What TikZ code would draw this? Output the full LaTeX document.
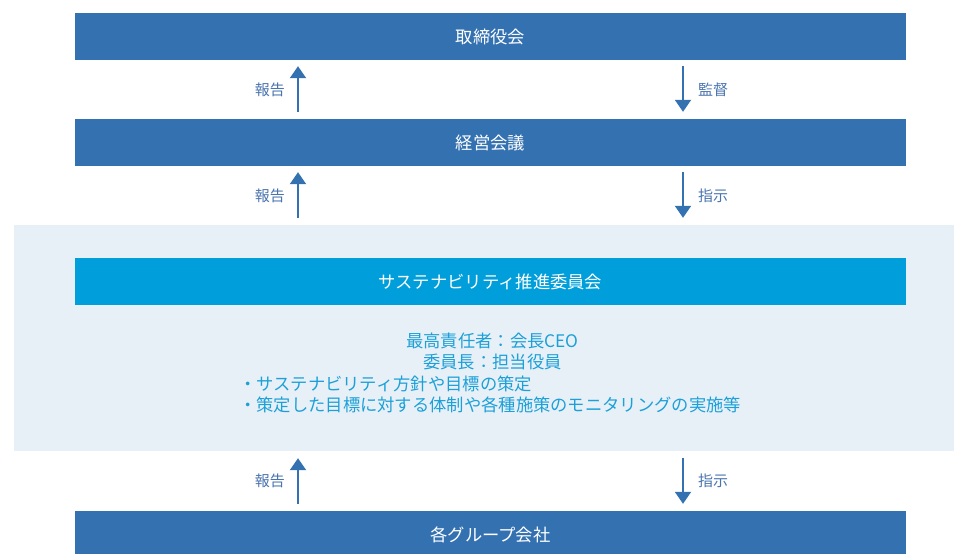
\documentclass[tikz,border=0pt]{standalone}
\usepackage{fontspec}
\setmainfont{Noto Sans CJK JP}
\usetikzlibrary{arrows.meta}
\definecolor{boxblue}{HTML}{3471B1}
\definecolor{susblue}{HTML}{009FDB}
\definecolor{regionbg}{HTML}{E8F0F7}
\definecolor{bodytext}{HTML}{1CA0D8}
\definecolor{labeltext}{HTML}{4A74AE}
\tikzset{
  orgbox/.style={fill=boxblue, minimum width=831pt, minimum height=47pt, inner sep=0pt,
    text=white, font=\fontsize{17.3}{20}\selectfont},
  susbox/.style={orgbox, fill=susblue},
  arr/.style={draw=boxblue, line width=2pt, -{Triangle[width=16pt,length=12pt]}},
  lbl/.style={text=labeltext, font=\fontsize{15}{18}\selectfont, inner sep=0pt},
  bodyline/.style={text=bodytext, font=\fontsize{17.3}{20}\selectfont, inner sep=0pt}
}
\begin{document}
\begin{tikzpicture}[x=1pt,y=-1pt]
\useasboundingbox (0,0) rectangle (954,554);
\node[fill=regionbg, minimum width=940pt, minimum height=226pt, inner sep=0pt] (region) at (484,338) {};
\node[orgbox] (board) at (490.5,36.5) {取締役会};
\node[orgbox] (mgmt) at (490.5,142.5) {経営会議};
\node[susbox] (sus) at (490.5,281.5) {サステナビリティ推進委員会};
\node[orgbox] (group) at (490.5,534.5) {各グループ会社};
% body text
\node[bodyline] (l1) at (492.5,341) {最高責任者：会長CEO};
\node[bodyline] (l2) at (492.5,362) {委員長：担当役員};
\node[bodyline, anchor=west] (l3) at (239,384) {・サステナビリティ方針や目標の策定};
\node[bodyline, anchor=west] (l4) at (239,405) {・策定した目標に対する体制や各種施策のモニタリングの実施等};
% arrow columns
\coordinate (upx) at (298,0);
\coordinate (dnx) at (683,0);
% arrows
\draw[arr, shorten <=7pt, shorten >=6pt] (upx |- mgmt.north) -- (upx |- board.south) coordinate[midway] (a1);
\draw[arr, shorten <=6pt, shorten >=7pt] (dnx |- board.south) -- (dnx |- mgmt.north) coordinate[midway] (a2);
\draw[arr, shorten <=7pt, shorten >=6pt] (upx |- region.north) -- (upx |- mgmt.south) coordinate[midway] (a3);
\draw[arr, shorten <=6pt, shorten >=7pt] (dnx |- mgmt.south) -- (dnx |- region.north) coordinate[midway] (a4);
\draw[arr, shorten <=7pt, shorten >=7pt] (upx |- group.north) -- (upx |- region.south) coordinate[midway] (a5);
\draw[arr, shorten <=7pt, shorten >=7pt] (dnx |- region.south) -- (dnx |- group.north) coordinate[midway] (a6);
% labels
\node[lbl, anchor=east] (t1) at ([xshift=-13pt]a1) {報告};
\node[lbl, anchor=west] (t2) at ([xshift=15pt]a2) {監督};
\node[lbl, anchor=east] (t3) at ([xshift=-13pt]a3) {報告};
\node[lbl, anchor=west] (t4) at ([xshift=15pt]a4) {指示};
\node[lbl, anchor=east] (t5) at ([xshift=-13pt]a5) {報告};
\node[lbl, anchor=west] (t6) at ([xshift=15pt]a6) {指示};
\end{tikzpicture}
\end{document}
